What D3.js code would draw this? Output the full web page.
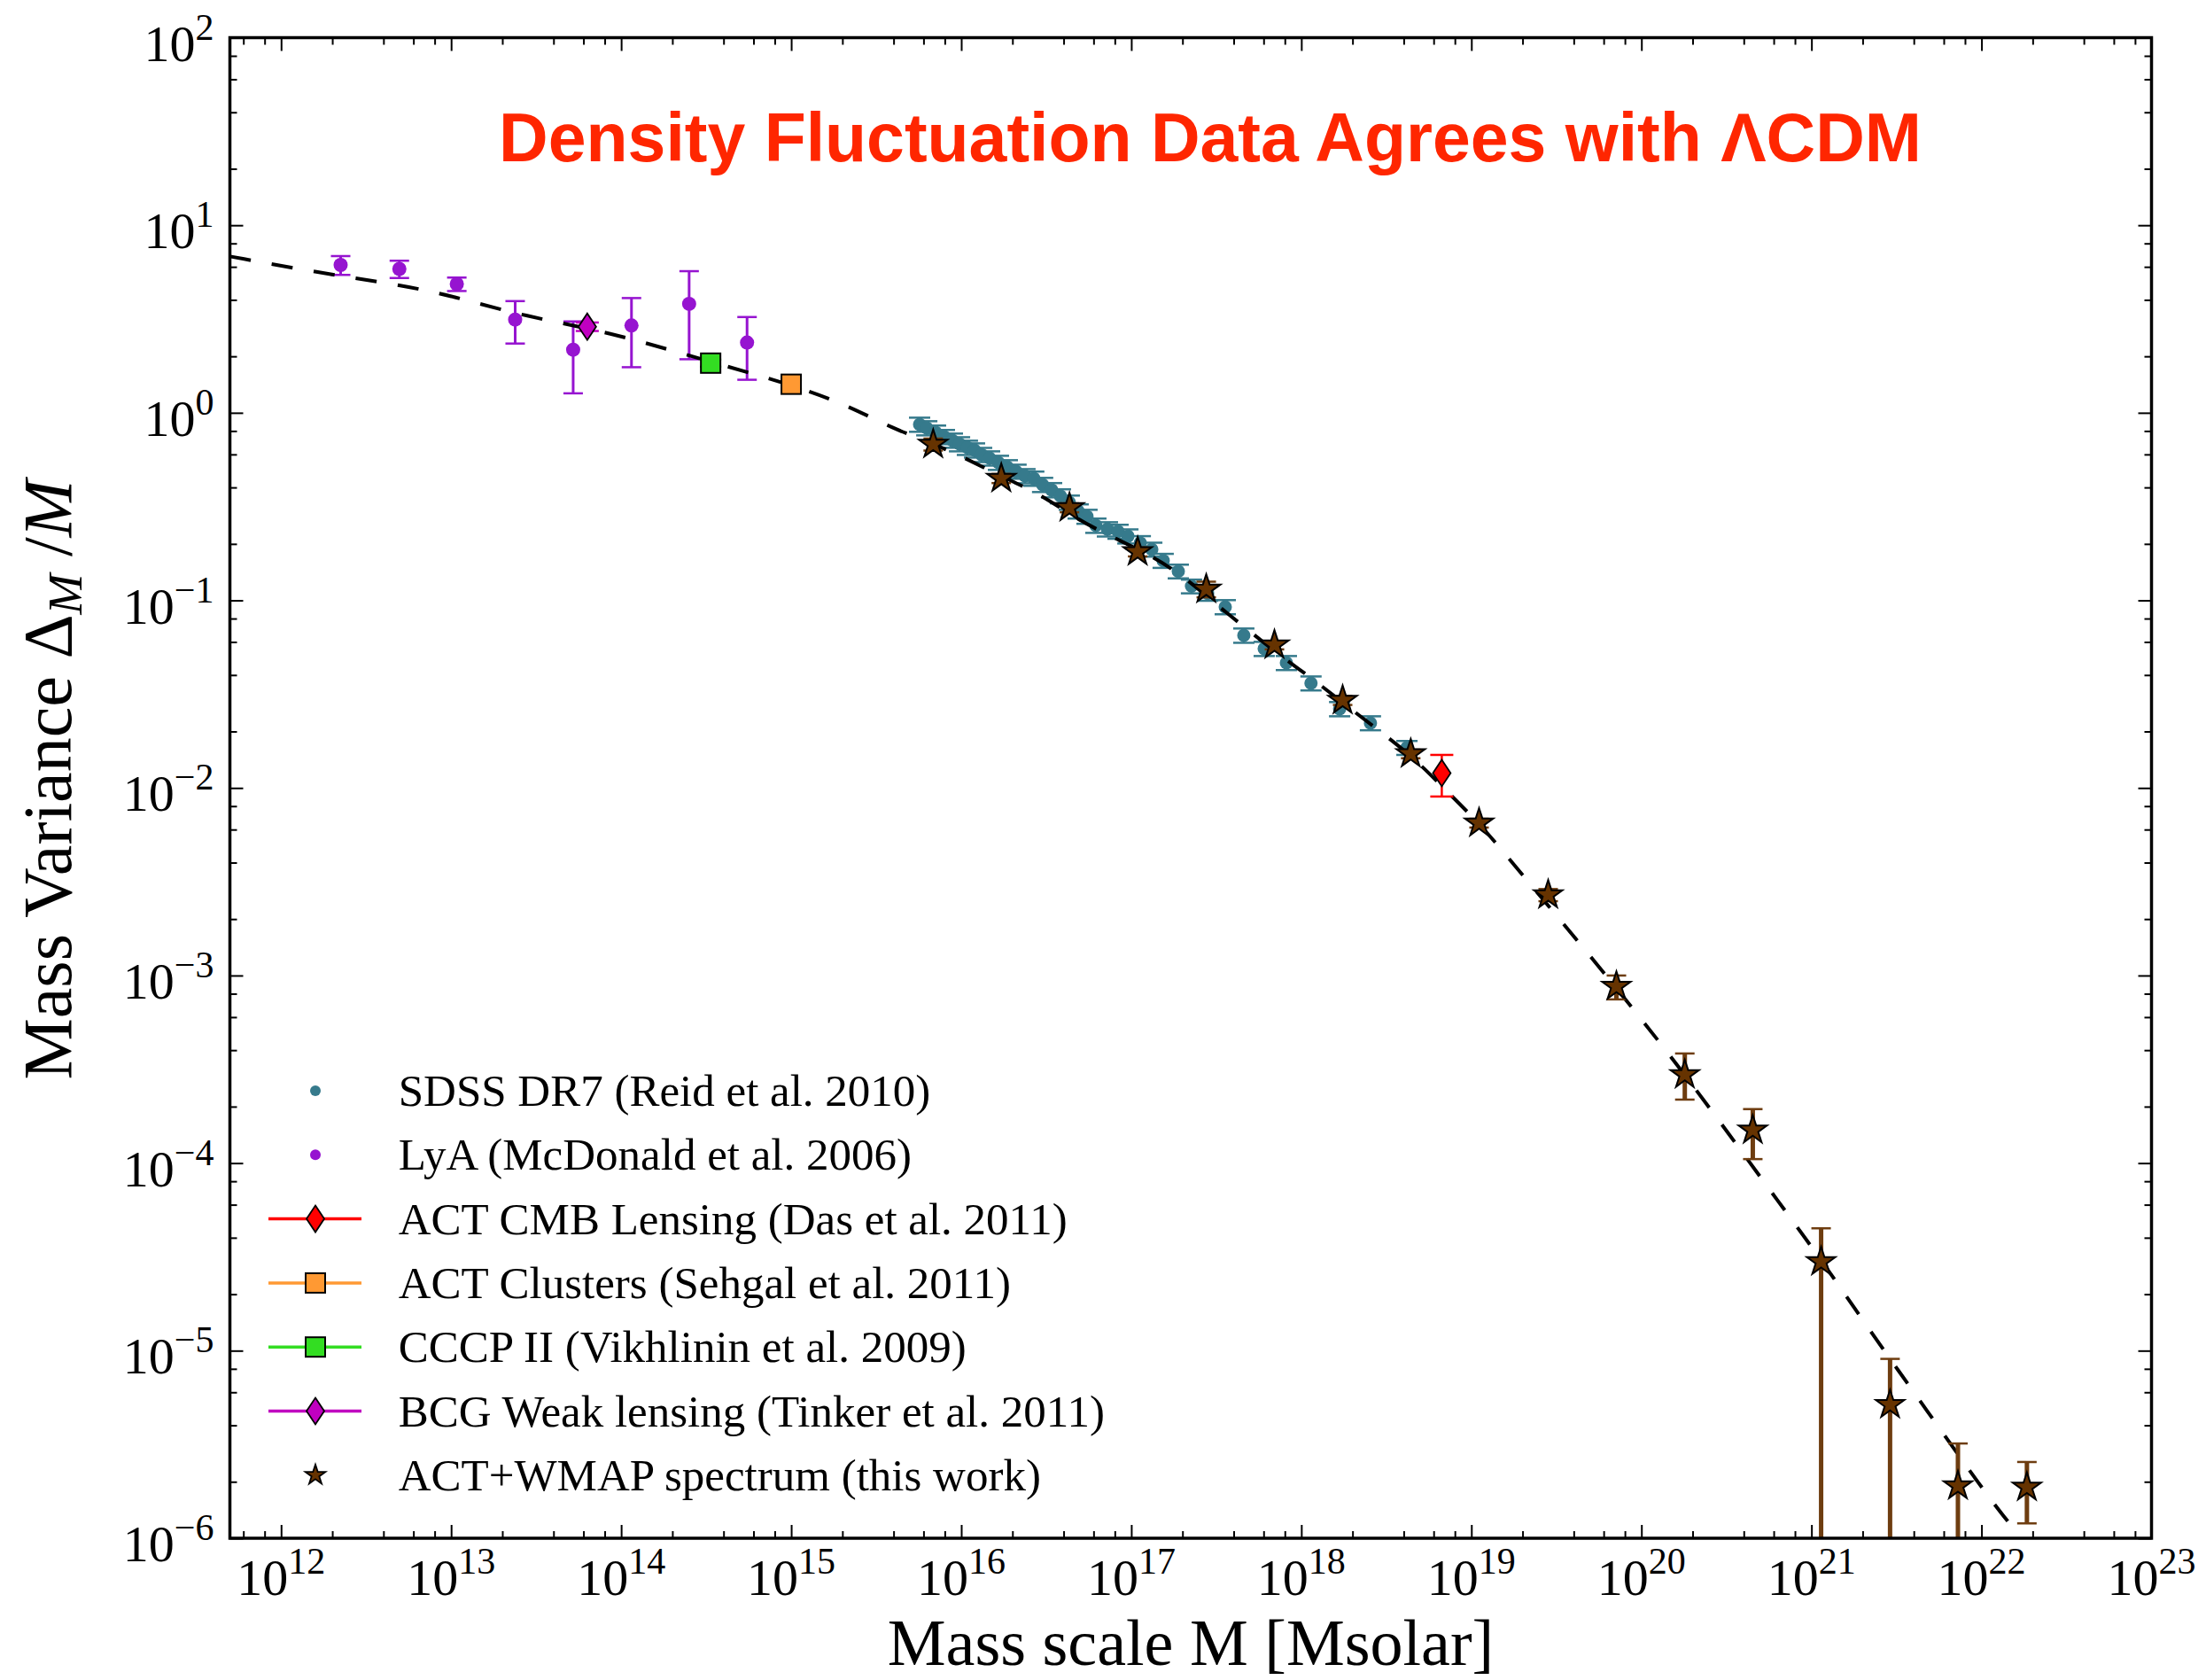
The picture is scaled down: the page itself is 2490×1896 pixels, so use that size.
<!DOCTYPE html>
<html>
<head>
<meta charset="utf-8">
<script src="https://cdn.jsdelivr.net/npm/d3@7"></script>
<style>
  body { margin: 0; background: #fff; }
  svg { display: block; }
</style>
</head>
<body>
<div id="chart"></div>
<script>
// ---- data (mass in Msolar, mass variance) ----

// SDSS DR7 (Reid et al. 2010)
var sdssM = [5.69e15, 6.27e15, 7.06e15, 7.96e15, 8.87e15, 9.77e15, 1.087e16, 1.197e16, 1.318e16, 1.468e16,
             1.655e16, 1.866e16, 2.10e16, 2.37e16, 2.67e16, 3.01e16, 3.40e16, 3.83e16, 4.32e16, 4.87e16,
             5.49e16, 6.19e16, 7.24e16, 8.36e16, 9.55e16, 1.13e17, 1.32e17, 1.54e17, 1.89e17, 2.26e17,
             2.81e17, 3.57e17, 4.59e17, 6.05e17, 8.17e17, 1.14e18, 1.68e18, 2.55e18, 4.18e18];
var sdssV = [0.867, 0.830, 0.787, 0.745, 0.713, 0.682, 0.653, 0.632, 0.598, 0.573,
             0.543, 0.514, 0.487, 0.461, 0.447, 0.414, 0.388, 0.360, 0.333, 0.299,
             0.280, 0.251, 0.240, 0.233, 0.220, 0.202, 0.187, 0.163, 0.143, 0.119,
             0.109, 0.0923, 0.0651, 0.0553, 0.0465, 0.0362, 0.0264, 0.0222, 0.0164];
var sdssErr = [0.075, 0.072, 0.068, 0.065, 0.062, 0.059, 0.057, 0.055, 0.052, 0.050,
               0.047, 0.045, 0.042, 0.040, 0.039, 0.036, 0.034, 0.031, 0.029, 0.026,
               0.024, 0.022, 0.021, 0.020, 0.019, 0.018, 0.016, 0.014, 0.012, 0.010,
               0.0095, 0.0080, 0.0057, 0.0048, 0.0040, 0.0031, 0.0023, 0.0019, 0.0014];

// LyA (McDonald et al. 2006)
var lyaM = [2.24e12, 4.96e12, 1.08e13, 2.38e13, 5.22e13, 1.15e14, 2.51e14, 5.50e14];
var lyaV = [6.14, 5.85, 4.86, 3.14, 2.17, 2.92, 3.81, 2.37];
var lyaErr = [0.70, 0.62, 0.40, 0.80, 0.90, 1.17, 1.88, 0.87];

// single points
var lensM = [6.7e18],   lensV = [0.012],  lensErr = [0.003];     // ACT CMB lensing
var clusterM = [1.0e15], clusterV = [1.42], clusterErr = [0.08];  // ACT clusters
var cccpM = [3.36e14],  cccpV = [1.84],   cccpErr = [0.08];      // CCCP II
var bcgM = [6.32e13],   bcgV = [2.88],    bcgErr = [0.15];       // BCG weak lensing

// ACT+WMAP spectrum (this work)
var starM = [6.84e15, 1.72e16, 4.33e16, 1.09e17, 2.76e17, 6.95e17, 1.75e18, 4.40e18, 1.11e19,
             2.83e19, 7.13e19, 1.80e20, 4.52e20, 1.14e21, 2.90e21, 7.27e21, 1.85e22];
var starV = [0.679, 0.447, 0.312, 0.1815, 0.1148, 0.0578, 0.0293, 0.0152, 0.0065,
             0.00269, 8.75e-4, 2.96e-4, 1.50e-4, 2.98e-5, 5.15e-6, 1.90e-6, 1.87e-6];
var starErrHi = [0.05, 0.025, 0.017, 0.01, 0.011, 0.003, 0.0016, 0.0008, 0.00035,
                 0.0002, 1.25e-4, 0.88e-4, 0.44e-4, 1.51e-5, 3.89e-6, 1.3e-6, 0.68e-6];
var starErrLo = [0.05, 0.025, 0.017, 0.01, 0.011, 0.003, 0.0016, 0.0008, 0.00035,
                 0.0002, 1.29e-4, 0.78e-4, 0.45e-4, 2.98e-5, 5.15e-6, 1.90e-6, 0.67e-6];

// LCDM theory curve (dashed)
var theoryM = [5.0e11, 1.59e12, 4.95e12, 1.007e13, 2.68e13, 8.63e13, 2.79e14, 9.93e14, 2.16e15, 4.02e15,
               6.11e15, 1.04e16, 1.72e16, 2.88e16, 4.85e16, 7.69e16, 1.29e17, 2.02e17, 3.18e17, 4.83e17,
               7.89e17, 1.19e18, 1.96e18, 4.40e18, 6.70e18, 1.11e19, 1.58e19, 4.73e19, 1.37e20, 3.39e20,
               6.35e20, 1.12e21, 2.38e21, 4.73e21, 1.04e22, 1.43e22];
var theoryV = [6.82, 5.62, 4.82, 4.21, 3.27, 2.69, 1.96, 1.42, 1.094, 0.818,
               0.716, 0.578, 0.457, 0.372, 0.269, 0.218, 0.175, 0.135, 0.0946, 0.0698,
               0.0490, 0.0377, 0.0262, 0.0151, 0.0102, 0.0065, 0.00444, 0.001355, 4.13e-4, 1.37e-4,
               6.28e-5, 3.13e-5, 1.16e-5, 4.86e-6, 1.77e-6, 1.23e-6];

var xExponents = [12, 13, 14, 15, 16, 17, 18, 19, 20, 21, 22, 23];
var yExponents = [-6, -5, -4, -3, -2, -1, 0, 1, 2];

var legendLabels = ["SDSS DR7 (Reid et al. 2010)",
                    "LyA (McDonald et al. 2006)",
                    "ACT CMB Lensing (Das et al. 2011)",
                    "ACT Clusters (Sehgal et al. 2011)",
                    "CCCP II (Vikhlinin et al. 2009)",
                    "BCG Weak lensing (Tinker et al. 2011)",
                    "ACT+WMAP spectrum (this work)"];

// ---- layout ----
var W = 2490, H = 1896;
var margin = {top: 42.5, right: 61.5, bottom: 160, left: 259.5};
var serif = "'Liberation Serif', 'Times New Roman', 'DejaVu Serif', serif";

var cTeal = "#367a8c", cPurple = "#9614d0", cRed = "#ff0000", cOrange = "#ff9933",
    cGreen = "#33dd22", cMagenta = "#c000c0", cBrown = "#663300", cBrownBar = "#6e3d10";

var svg = d3.select("#chart").append("svg")
    .attr("width", W)
    .attr("height", H)
    .style("background", "#fff");

var x = d3.scaleLog().domain([5e11, 1e23]).range([margin.left, W - margin.right]);
var y = d3.scaleLog().domain([1e-6, 1e2]).range([H - margin.bottom, margin.top]);

var x0 = margin.left, x1 = W - margin.right, y0 = margin.top, y1 = H - margin.bottom;

svg.append("clipPath").attr("id", "clip")
  .append("rect").attr("x", x0).attr("y", y0).attr("width", x1 - x0).attr("height", y1 - y0);

// ---- ticks on all four sides, pointing in ----
function p10(e) { return +("1e" + e); }
var xMajor = xExponents.map(p10);
var yMajor = yExponents.map(p10);
var xMinor = [], yMinor = [];
d3.range(11, 23).forEach(function (e) {
  [2, 4, 6, 8].forEach(function (s) { var v = s * p10(e); if (v > 5e11 && v < 1e23) xMinor.push(v); });
});
d3.range(-6, 2).forEach(function (e) {
  [2, 4, 6, 8].forEach(function (s) { yMinor.push(s * p10(e)); });
});

function tickAxis(axis, vals, size, transform) {
  svg.append("g")
    .attr("transform", transform)
    .call(axis.tickValues(vals).tickSize(size).tickSizeOuter(0).tickFormat(""))
    .call(function (g) {
      g.select(".domain").remove();
      g.selectAll("line").attr("stroke", "#000").attr("stroke-width", 2);
    });
}
tickAxis(d3.axisBottom(x), xMajor, -15, "translate(0," + y1 + ")");
tickAxis(d3.axisBottom(x), xMinor, -8, "translate(0," + y1 + ")");
tickAxis(d3.axisTop(x), xMajor, -15, "translate(0," + y0 + ")");
tickAxis(d3.axisTop(x), xMinor, -8, "translate(0," + y0 + ")");
tickAxis(d3.axisLeft(y), yMajor, -15, "translate(" + x0 + ",0)");
tickAxis(d3.axisLeft(y), yMinor, -8, "translate(" + x0 + ",0)");
tickAxis(d3.axisRight(y), yMajor, -15, "translate(" + x1 + ",0)");
tickAxis(d3.axisRight(y), yMinor, -8, "translate(" + x1 + ",0)");

// tick labels as 10^n
function powLabel(t, e) {
  t.append("tspan").text("10");
  t.append("tspan").text(e < 0 ? "\u2212" + (-e) : "" + e)
    .attr("font-size", 42).attr("dy", -24);
}
xExponents.forEach(function (e) {
  var t = svg.append("text")
    .attr("x", x(p10(e))).attr("y", y1 + 64)
    .attr("text-anchor", "middle")
    .attr("font-family", serif).attr("font-size", 58);
  powLabel(t, e);
});
yExponents.forEach(function (e) {
  var t = svg.append("text")
    .attr("x", x0 - 18).attr("y", y(p10(e)) + 26)
    .attr("text-anchor", "end")
    .attr("font-family", serif).attr("font-size", 58);
  powLabel(t, e);
});

// axis titles
svg.append("text")
  .attr("x", (x0 + x1) / 2).attr("y", 1879)
  .attr("text-anchor", "middle")
  .attr("font-family", serif).attr("font-size", 74)
  .text("Mass scale M [Msolar]");

var ylab = svg.append("text")
  .attr("transform", "translate(80,880) rotate(-90)")
  .attr("text-anchor", "middle")
  .attr("font-family", serif).attr("font-size", 78);
ylab.append("tspan").text("Mass Variance \u0394");
ylab.append("tspan").text("M").attr("font-style", "italic").attr("font-size", 55).attr("dy", 12);
ylab.append("tspan").text(" /").attr("dy", -12);
ylab.append("tspan").text("M").attr("font-style", "italic");

// title
svg.append("text")
  .attr("x", 1366).attr("y", 182)
  .attr("text-anchor", "middle")
  .attr("font-family", "'Liberation Sans', Arial, Helvetica, sans-serif")
  .attr("font-weight", "bold").attr("font-size", 77)
  .attr("fill", "#ff2600")
  .text("Density Fluctuation Data Agrees with \u039bCDM");

// ---- data layer ----
var plot = svg.append("g").attr("clip-path", "url(#clip)");

function errorBars(M, V, lo, hi, color, cap, width) {
  var g = plot.append("g").attr("stroke", color).attr("fill", "none");
  d3.range(M.length).forEach(function (i) {
    var cx = x(M[i]);
    var yt = y(V[i] + hi[i]);
    var yb = y(Math.max(V[i] - lo[i], 1e-9));
    g.append("line").attr("x1", cx).attr("x2", cx).attr("y1", yt).attr("y2", yb).attr("stroke-width", width);
    g.append("line").attr("x1", cx - cap).attr("x2", cx + cap).attr("y1", yt).attr("y2", yt).attr("stroke-width", 2.5);
    if (V[i] - lo[i] > 0)
      g.append("line").attr("x1", cx - cap).attr("x2", cx + cap).attr("y1", yb).attr("y2", yb).attr("stroke-width", 2.5);
  });
}

function dots(M, V, color, r) {
  plot.append("g").selectAll("circle")
    .data(d3.range(M.length))
    .enter().append("circle")
      .attr("cx", function (i) { return x(M[i]); })
      .attr("cy", function (i) { return y(V[i]); })
      .attr("r", r)
      .attr("fill", color);
}

var diamondPath = "M0,-15L10,0L0,15L-10,0Z";
var starSym = d3.symbol().type(d3.symbolStar);

// SDSS
errorBars(sdssM, sdssV, sdssErr, sdssErr, cTeal, 12, 2.5);
dots(sdssM, sdssV, cTeal, 7.5);

// LyA
errorBars(lyaM, lyaV, lyaErr, lyaErr, cPurple, 11, 3);
dots(lyaM, lyaV, cPurple, 8);

// theory curve
var line = d3.line()
  .x(function (d) { return x(d[0]); })
  .y(function (d) { return y(d[1]); })
  .curve(d3.curveBasis);
plot.append("path")
  .datum(d3.zip(theoryM, theoryV))
  .attr("d", line)
  .attr("fill", "none")
  .attr("stroke", "#000")
  .attr("stroke-width", 4)
  .attr("stroke-dasharray", "24,24");

// ACT+WMAP stars
errorBars(starM, starV, starErrLo, starErrHi, cBrownBar, 11, 5);
plot.append("g").selectAll("path")
  .data(d3.range(starM.length))
  .enter().append("path")
    .attr("d", starSym.size(320)())
    .attr("transform", function (i) { return "translate(" + x(starM[i]) + "," + y(starV[i]) + ")"; })
    .attr("fill", cBrown)
    .attr("stroke", "#000")
    .attr("stroke-width", 2);

// squares
function squares(M, V, E, color) {
  errorBars(M, V, E, E, color, 12, 2.5);
  plot.append("g").selectAll("rect")
    .data(d3.range(M.length))
    .enter().append("rect")
      .attr("x", function (i) { return x(M[i]) - 11; })
      .attr("y", function (i) { return y(V[i]) - 11; })
      .attr("width", 22).attr("height", 22)
      .attr("fill", color).attr("stroke", "#000").attr("stroke-width", 2);
}
squares(cccpM, cccpV, cccpErr, cGreen);
squares(clusterM, clusterV, clusterErr, cOrange);

// diamonds
function diamonds(M, V, E, color) {
  errorBars(M, V, E, E, color, 13, 2.5);
  plot.append("g").selectAll("path")
    .data(d3.range(M.length))
    .enter().append("path")
      .attr("d", diamondPath)
      .attr("transform", function (i) { return "translate(" + x(M[i]) + "," + y(V[i]) + ")"; })
      .attr("fill", color).attr("stroke", "#000").attr("stroke-width", 1.8);
}
diamonds(bcgM, bcgV, bcgErr, cMagenta);
diamonds(lensM, lensV, lensErr, cRed);

// ---- legend ----
var legendKinds = ["dot", "dot", "diamond", "square", "square", "diamond", "star"];
var legendColors = [cTeal, cPurple, cRed, cOrange, cGreen, cMagenta, cBrown];
var legendLine = [false, false, true, true, true, true, false];

var legend = svg.append("g");
legendLabels.forEach(function (lab, i) {
  var cy = 1231 + i * 72.3, mx = 356;
  var row = legend.append("g");
  if (legendLine[i]) {
    row.append("line").attr("x1", 303).attr("x2", 408).attr("y1", cy).attr("y2", cy)
      .attr("stroke", legendColors[i]).attr("stroke-width", 3.5);
  }
  if (legendKinds[i] == "dot") {
    row.append("circle").attr("cx", mx).attr("cy", cy).attr("r", 6).attr("fill", legendColors[i]);
  } else if (legendKinds[i] == "diamond") {
    row.append("path").attr("d", diamondPath).attr("transform", "translate(" + mx + "," + cy + ")")
      .attr("fill", legendColors[i]).attr("stroke", "#000").attr("stroke-width", 1.8);
  } else if (legendKinds[i] == "square") {
    row.append("rect").attr("x", mx - 11).attr("y", cy - 11).attr("width", 22).attr("height", 22)
      .attr("fill", legendColors[i]).attr("stroke", "#000").attr("stroke-width", 2);
  } else {
    row.append("path").attr("d", starSym.size(160)()).attr("transform", "translate(" + mx + "," + cy + ")")
      .attr("fill", legendColors[i]).attr("stroke", "#000").attr("stroke-width", 1.8);
  }
  row.append("text")
    .attr("x", 449.7).attr("y", cy + 17)
    .attr("font-family", serif).attr("font-size", 51)
    .text(lab);
});

// frame
svg.append("rect")
  .attr("x", x0).attr("y", y0)
  .attr("width", x1 - x0).attr("height", y1 - y0)
  .attr("fill", "none").attr("stroke", "#000").attr("stroke-width", 3.5);
</script>
</body>
</html>
